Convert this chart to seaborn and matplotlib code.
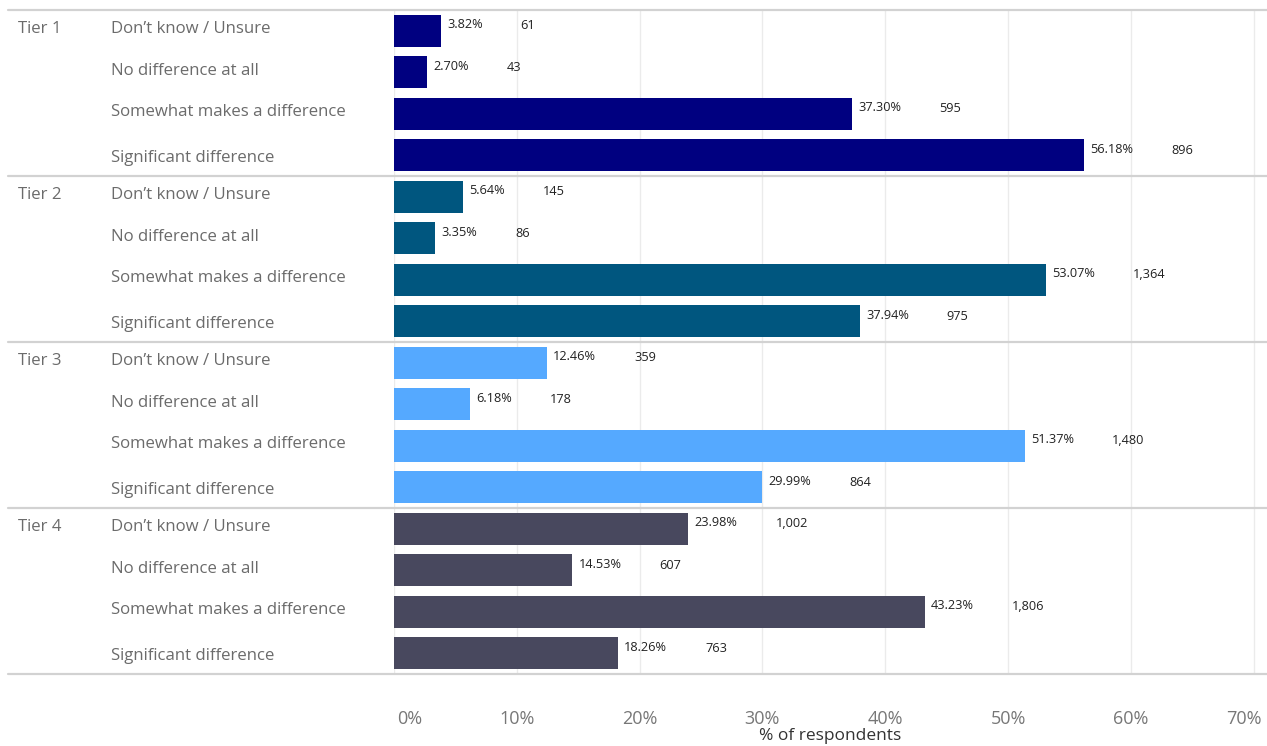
import matplotlib
matplotlib.use("Agg")
import matplotlib.pyplot as plt
import matplotlib.transforms as mtransforms
import pandas as pd
import seaborn as sns

# Survey responses by tier
tiers = ["Tier 1", "Tier 2", "Tier 3", "Tier 4"]
categories = [
    "Don\u2019t know / Unsure",
    "No difference at all",
    "Somewhat makes a difference",
    "Significant difference",
]
pct_tier1 = [3.82, 2.70, 37.30, 56.18]
pct_tier2 = [5.64, 3.35, 53.07, 37.94]
pct_tier3 = [12.46, 6.18, 51.37, 29.99]
pct_tier4 = [23.98, 14.53, 43.23, 18.26]
cnt_tier1 = [61, 43, 595, 896]
cnt_tier2 = [145, 86, 1364, 975]
cnt_tier3 = [359, 178, 1480, 864]
cnt_tier4 = [1002, 607, 1806, 763]
x_ticks = [0, 10, 20, 30, 40, 50, 60, 70]

tier_colors = ["#000080", "#00567F", "#55A9FF", "#48485E"]

pcts = [pct_tier1, pct_tier2, pct_tier3, pct_tier4]
cnts = [cnt_tier1, cnt_tier2, cnt_tier3, cnt_tier4]
rows = []
for t, tier in enumerate(tiers):
    for c, cat in enumerate(categories):
        rows.append({"tier": tier, "category": cat, "key": f"{tier}|{cat}",
                     "pct": pcts[t][c], "count": cnts[t][c], "pos": c})
df = pd.DataFrame(rows)

sns.set_theme(style="white")
plt.rcParams["font.family"] = ["Open Sans", "DejaVu Sans"]

W, H, DPI = 1267, 746, 100
fig = plt.figure(figsize=(W / DPI, H / DPI), dpi=DPI)
ax_left, ax_right, ax_top, ax_bottom = 394, 1267, 10, 674
ax = fig.add_axes([ax_left / W, 1 - ax_bottom / H,
                   (ax_right - ax_left) / W, (ax_bottom - ax_top) / H])

sns.barplot(data=df, x="pct", y="key", hue="tier", order=df["key"].tolist(),
            hue_order=tiers, palette=tier_colors, orient="h", dodge=False,
            width=0.77, saturation=1, linewidth=0, legend=False, ax=ax,
            zorder=3)

px_per_unit = 12.28
ax.set_xlim(0, (ax_right - ax_left) / px_per_unit)
ax.set_ylim(len(df) - 0.5, -0.5)

for s in ax.spines.values():
    s.set_visible(False)
ax.set_yticks([])
ax.set_ylabel("")

# vertical gridlines
for t in x_ticks:
    ax.axvline(t, color="#ebebeb", lw=1, zorder=0)

# tier separators, extending into the label area
x_from = (8 - ax_left) / (ax_right - ax_left)
for b in [-0.5, 3.5, 7.5, 11.5, 15.5]:
    ax.axhline(b, xmin=x_from, xmax=1, color="#d2d2d2", lw=1.6,
               clip_on=False, zorder=4)

ytrans = ax.get_yaxis_transform()
cat_x = (111 - ax_left) / (ax_right - ax_left)
tier_x = (18 - ax_left) / (ax_right - ax_left)
label_shift = [2, 1, 2, -3]

for i, r in df.iterrows():
    dy = label_shift[r["pos"]]
    ax.annotate(r["category"], xy=(cat_x, i), xycoords=ytrans,
                xytext=(0, dy), textcoords="offset pixels",
                ha="left", va="center", fontsize=12.1, color="#6b6b6b")
    if r["pos"] == 0:
        ax.annotate(r["tier"], xy=(tier_x, i), xycoords=ytrans,
                    xytext=(0, dy), textcoords="offset pixels",
                    ha="left", va="center", fontsize=12.1, color="#6b6b6b")
    pt = ax.annotate(f"{r['pct']:.2f}%", xy=(r["pct"], i),
                     xytext=(6, 6), textcoords="offset pixels",
                     ha="left", va="center", fontsize=9.2, color="#222222")
    ax.annotate(f"{r['count']:,}", xy=(1, 0.5), xycoords=pt,
                xytext=(38, -1), textcoords="offset pixels",
                ha="left", va="center", fontsize=9.2, color="#222222")

ax.set_xticks(x_ticks)
ax.set_xticklabels([f"{t}%" for t in x_ticks], fontsize=13, color="#777777")
ax.tick_params(axis="x", length=0, pad=26)
lbls = ax.get_xticklabels()
lbls[0].set_transform(lbls[0].get_transform() +
                      mtransforms.ScaledTranslation(16 / DPI, 0, fig.dpi_scale_trans))
lbls[-1].set_transform(lbls[-1].get_transform() +
                       mtransforms.ScaledTranslation(-10 / DPI, 0, fig.dpi_scale_trans))
ax.set_xlabel("% of respondents", fontsize=12.5, color="#333333", labelpad=0)

fig.savefig("out.png", dpi=DPI)
